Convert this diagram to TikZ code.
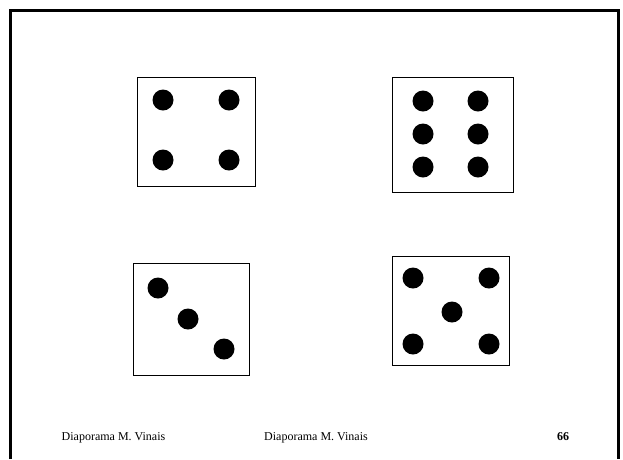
\documentclass[tikz,border=0pt]{standalone}
\usepackage{fontspec}
\setmainfont{Liberation Serif}
\usepackage{tikz}
\usetikzlibrary{positioning}

\begin{document}
\begin{tikzpicture}[
    x=1pt, y=-1pt,
    die/.style={rectangle, draw=black, line width=0.8pt, inner sep=0pt},
    pip/.style={circle, fill=black, inner sep=0pt, minimum size=21pt},
    foot/.style={anchor=base west, inner sep=0pt, font=\fontsize{12}{14}\selectfont}
]
\useasboundingbox (0,0) rectangle (623,459);

% --- Slide frame (open at the bottom) ---
\draw[line width=2.5pt] (10.5,459) -- (10.5,10.5) -- (618.5,10.5) -- (618.5,459);

% --- Die with four ---
\node[die, minimum width=118pt, minimum height=109pt] (four) at (196,131.5) {};
\node[pip] (fourA) at (163,100) {};
\node[pip] (fourB) at (229,100) {};
\node[pip] (fourC) at (163,160) {};
\node[pip] (fourD) at (229,160) {};

% --- Die with six ---
\node[die, minimum width=121pt, minimum height=115pt] (six) at (452.5,134.5) {};
\node[pip] (sixA) at (423,101) {};
\node[pip] (sixB) at (478,101) {};
\node[pip] (sixC) at (423,134) {};
\node[pip] (sixD) at (478,134) {};
\node[pip] (sixE) at (423,167) {};
\node[pip] (sixF) at (478,167) {};

% --- Die with three ---
\node[die, minimum width=116pt, minimum height=112pt] (three) at (191,319) {};
\node[pip] (threeA) at (158,288) {};
\node[pip] (threeB) at (188,319) {};
\node[pip] (threeC) at (224,349) {};

% --- Die with five ---
\node[die, minimum width=117pt, minimum height=109pt] (five) at (450.5,310.5) {};
\node[pip] (fiveA) at (413,278) {};
\node[pip] (fiveB) at (489,278) {};
\node[pip] (fiveC) at (452,312) {};
\node[pip] (fiveD) at (413,344) {};
\node[pip] (fiveE) at (489,344) {};

% --- Footer ---
\node[foot] (author) at (61.5,440) {Diaporama M. Vinais};
\node[foot] (title) at (264,440) {Diaporama M. Vinais};
\node[foot, font=\fontsize{12}{14}\selectfont\bfseries] (page) at (557,440) {66};

\end{tikzpicture}
\end{document}
